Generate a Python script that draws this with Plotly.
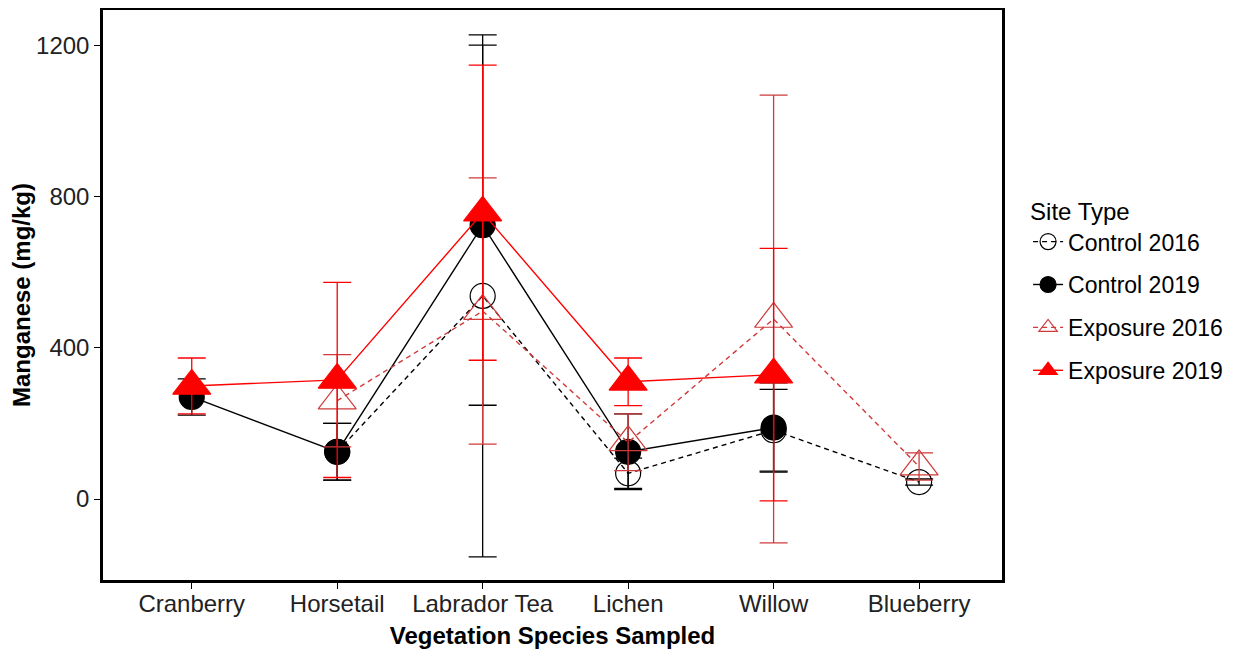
import plotly.graph_objects as go

# vegetation species on the x axis
categories = ["Cranberry", "Horsetail", "Labrador Tea", "Lichen", "Willow", "Blueberry"]

# mean manganese (mg/kg) and error bar half-widths
control_2016 = [None, 125, 537, 68, 182, 45]
control_2016_err = [None, 75, 690, 40, 108, 8]
control_2019 = [270, 125, 724, 125, 189, None]
control_2019_err = [48, 75, 476, 100, 118, None]
exposure_2016 = [None, 260, 497, 150, 476, 86]
exposure_2016_err = [None, 122, 352, 75, 592, 36]
exposure_2019 = [299, 315, 757, 310, 329, None]
exposure_2019_err = [74, 258, 390, 63, 334, None]

y_ticks = [0, 400, 800, 1200]

FONT = "Liberation Sans, Arial, sans-serif"

fig = go.Figure()


def add_series(name, y, err, color, symbol, filled, dash, size):
    fig.add_trace(go.Scatter(
        x=categories, y=y, name=name, legendgroup=name,
        mode="lines+markers",
        line=dict(color=color, width=1.4, dash=dash),
        marker=dict(
            symbol=symbol, size=size,
            color=color if filled else "rgba(0,0,0,0)",
            line=dict(color=color, width=1.2),
        ),
        error_y=dict(type="data", array=err, visible=True,
                     color=color, thickness=1.3, width=14),
    ))


add_series("Control 2016", control_2016, control_2016_err, "black", "circle", False, "5px,4px", 25)
add_series("Control 2019", control_2019, control_2019_err, "black", "circle", True, "solid", 25)
add_series("Exposure 2016", exposure_2016, exposure_2016_err, "#d03a3a", "triangle-up", False, "5px,4px", 33)
add_series("Exposure 2019", exposure_2019, exposure_2019_err, "#ff0000", "triangle-up", True, "solid", 33)

# page body has an 8px margin, so the figure is sized to fit inside it
fig.update_layout(
    width=1243, height=646,
    margin=dict(l=95, r=249, t=2, b=74),
    plot_bgcolor="white", paper_bgcolor="white",
    font=dict(family=FONT, size=24, color="black"),
    showlegend=True,
    legend=dict(
        title=dict(text="Site Type", font=dict(size=24)),
        font=dict(size=23),
        x=1.029, xanchor="left", y=0.508, yanchor="middle",
        tracegroupgap=10,
        bgcolor="rgba(0,0,0,0)",
    ),
)

fig.update_xaxes(
    range=[-0.61, 5.57],
    showline=True, mirror=True, linecolor="black", linewidth=2.5,
    ticks="outside", ticklen=6, tickcolor="black",
    ticklabelstandoff=-6,
    showgrid=False, zeroline=False, automargin=False,
    tickfont=dict(size=24, color="#222"),
    title=dict(text="<b>Vegetation Species Sampled</b>", font=dict(size=24), standoff=12),
)
fig.update_yaxes(
    range=[-214, 1293],
    tickvals=y_ticks,
    showline=True, mirror=True, linecolor="black", linewidth=2.5,
    ticks="outside", ticklen=6, tickcolor="black",
    showgrid=False, zeroline=False, automargin=False,
    tickfont=dict(size=24, color="#222"),
    title=dict(text="<b>Manganese (mg/kg)</b>", font=dict(size=24), standoff=8),
)

fig.write_html("out.html")
